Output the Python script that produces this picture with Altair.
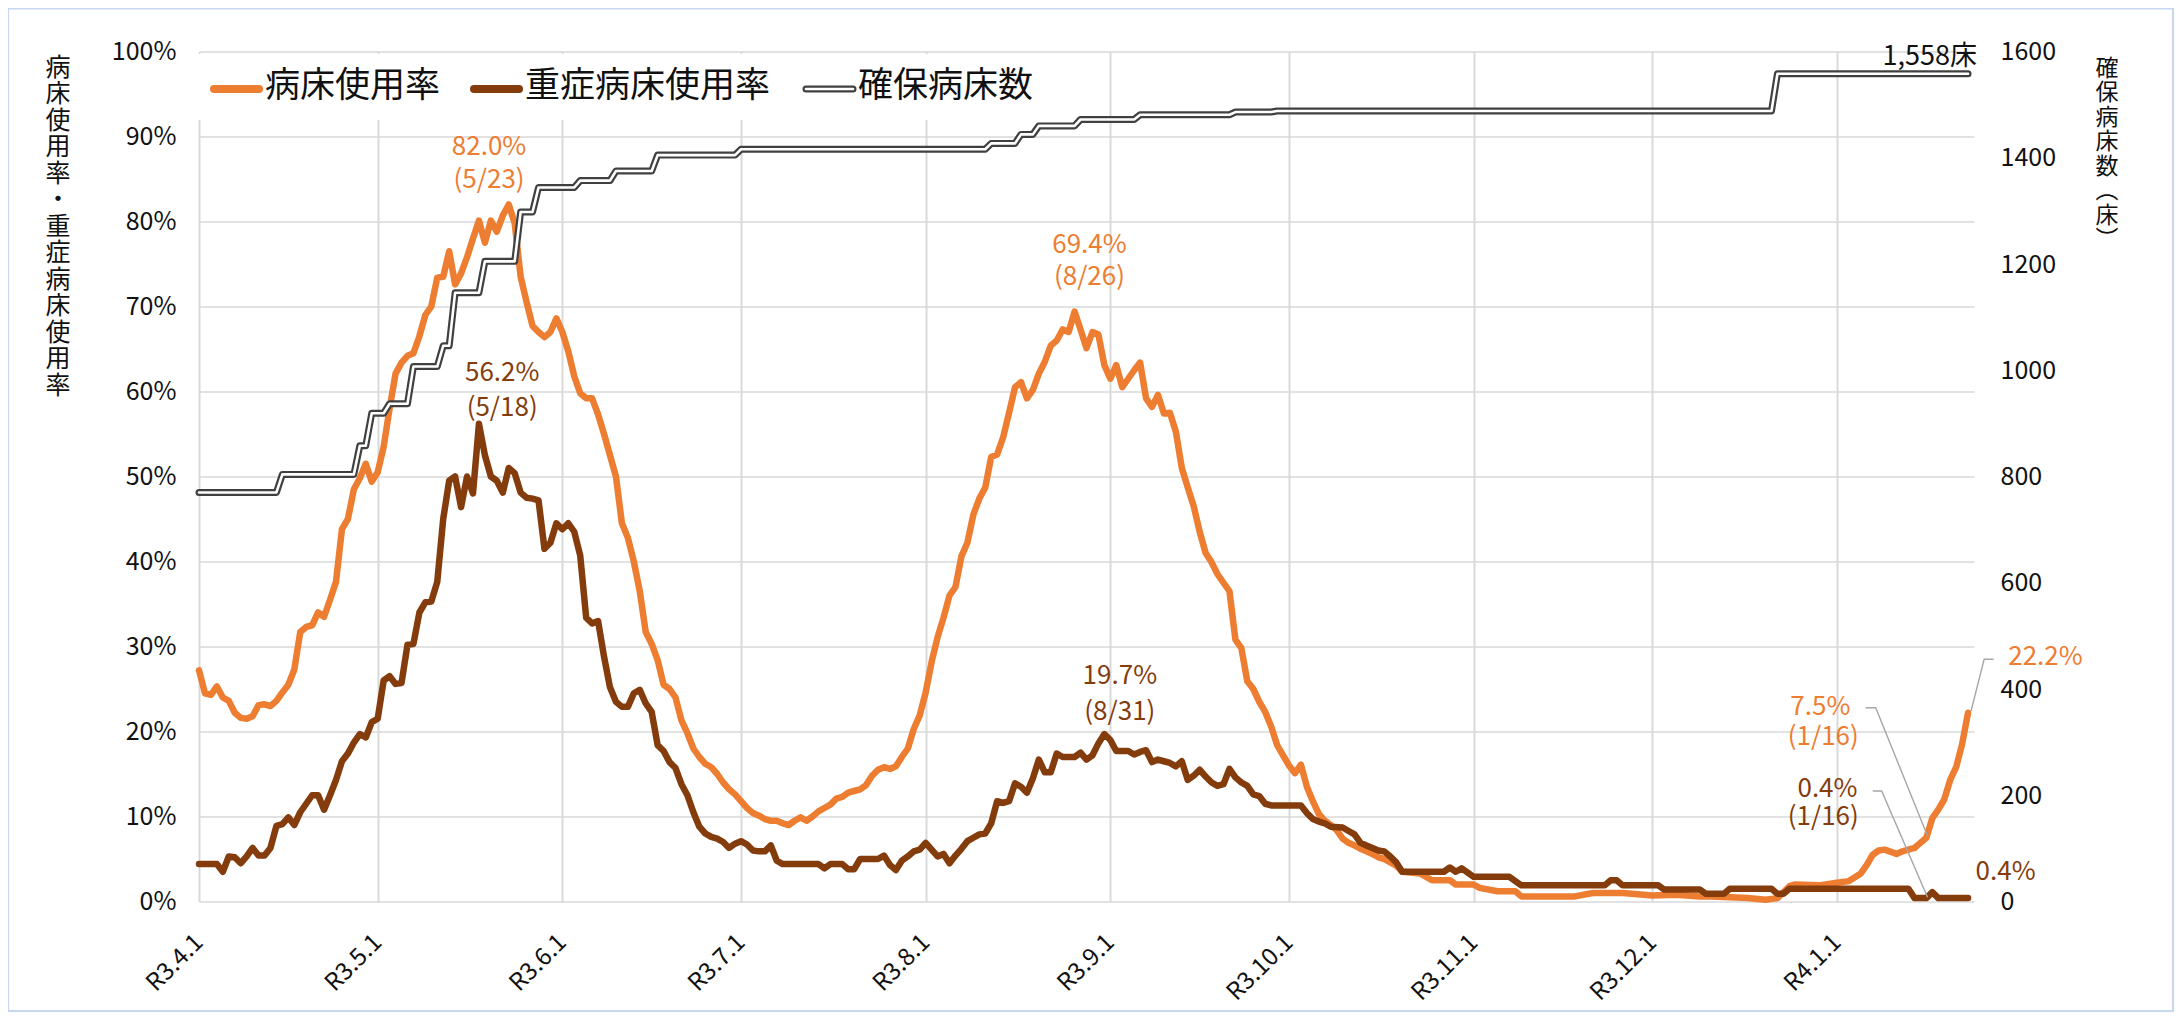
import altair as alt
import pandas as pd

FONT = "Noto Sans CJK JP"
ORANGE = "#ED7D31"
BROWN = "#843C0C"
BEDLINE = "#404040"
GRID = "#D9D9D9"
TXT = "#111111"
LEADER = "#A6A6A6"

START = pd.Timestamp("2021-04-01", tz="UTC")


def ms(d):
    return int((START + pd.Timedelta(days=d)).value // 10**6)


# ---- data (day offset from 2021-04-01, value) ----
occ_day = list(range(0, 203)) + [205, 207, 210, 211, 214, 215, 218, 221, 222, 231, 234, 239, 244, 248,
                                  252, 254, 260, 263, 265, 267, 268, 272, 275, 277, 279, 280, 281, 282,
                                  283, 285, 286, 288, 289, 290, 291, 292, 293, 294, 295, 296, 297]
occ_val = [
    27.2, 24.5, 24.3, 25.3, 24.0, 23.6, 22.2, 21.6, 21.5, 21.8,
    23.1, 23.2, 23.0, 23.6, 24.6, 25.5, 27.3, 31.7, 32.3, 32.5,
    34.0, 33.5, 35.5, 37.6, 43.8, 45.0, 48.5, 49.8, 51.5, 49.4,
    50.5, 53.5, 58.0, 62.1, 63.4, 64.2, 64.5, 66.5, 69.0, 70.0,
    73.4, 73.5, 76.5, 72.6, 73.9, 75.8, 78.0, 80.1, 77.5, 80.1,
    78.8, 80.7, 82.0, 79.8, 73.5, 70.5, 67.7, 67.0, 66.4, 67.0,
    68.6, 67.0, 64.7, 61.8, 59.8, 59.2, 59.2, 57.3, 55.0, 52.5,
    50.0, 44.5, 42.8, 40.0, 36.5, 31.7, 30.3, 28.4, 25.5, 25.0,
    24.0, 21.3, 19.8, 18.0, 17.0, 16.2, 15.8, 15.0, 14.0, 13.2,
    12.6, 11.8, 11.0, 10.4, 10.1, 9.7, 9.5, 9.5, 9.2, 9.0,
    9.5, 9.9, 9.5, 10.0, 10.6, 11.0, 11.4, 12.1, 12.3, 12.8,
    13.0, 13.2, 13.7, 14.8, 15.5, 15.8, 15.6, 15.9, 17.0, 18.0,
    20.3, 21.9, 24.6, 28.2, 31.1, 33.4, 36.0, 37.0, 40.6, 42.2,
    45.5, 47.4, 48.7, 52.3, 52.6, 54.6, 57.5, 60.5, 61.1, 59.2,
    60.2, 62.1, 63.5, 65.4, 66.0, 67.3, 67.0, 69.4, 67.3, 65.1,
    67.0, 66.7, 63.1, 61.5, 63.1, 60.5, 61.5, 62.5, 63.4, 59.2,
    58.2, 59.6, 57.4, 57.5, 55.3, 51.0, 48.7, 46.5, 43.5, 41.0,
    39.9, 38.5, 37.5, 36.5, 30.8, 29.8, 25.9, 25.0, 23.5, 22.3,
    20.6, 18.4, 17.2, 16.0, 15.1, 16.1, 13.5, 11.8, 10.3, 9.5,
    9.0, 8.4, 7.4, 6.9, 6.6, 6.2, 5.9, 5.6, 5.2, 5.0,
    4.6, 4.2, 3.5,
    3.3, 2.5, 2.5, 2.0, 2.0, 1.6, 1.2, 1.2, 0.6, 0.6, 1.0, 1.0, 0.7, 0.8,
    0.6, 0.6, 0.4, 0.2, 0.4, 1.8, 2.0, 1.9, 2.2, 2.4, 3.3, 4.3, 5.5, 6.0,
    6.1, 5.6, 5.9, 6.3, 6.9, 7.5, 9.8, 10.8, 12.0, 14.3, 15.8, 18.5, 22.2,
]

sev_day = [0, 3, 4, 5, 6, 7, 8, 9, 10, 11, 12, 13, 14, 15, 16, 17, 18, 19, 20, 21, 22, 23, 24, 25, 26,
           27, 28, 29, 30, 31, 32, 33, 34, 35, 36, 37, 38, 39, 40, 41, 42, 43, 44, 45, 46, 47, 48, 49,
           50, 51, 52, 53, 54, 55, 56, 57, 58, 59, 60, 61, 62, 63, 64, 65, 66, 67, 68, 69, 70, 71, 72,
           73, 74, 75, 76, 77, 78, 79, 80, 81, 82, 83, 84, 85, 86, 87, 88, 89, 90, 91, 92, 93, 94, 95,
           96, 97, 98, 104, 105, 106, 108, 109, 110, 111, 114, 115, 116, 117, 118, 119, 120, 121, 122,
           123, 124, 125, 126, 127, 128, 129, 130, 131, 132, 133, 134, 135, 136, 137, 138, 139, 140,
           141, 142, 143, 144, 145, 147, 148, 149, 150, 151, 152, 153, 154, 156, 157, 158, 159, 160,
           161, 162, 163, 164, 165, 166, 167, 168, 169, 170, 171, 172, 173, 174, 175, 176, 177, 178,
           179, 180, 185, 186, 187, 188, 189, 190, 192, 193, 194, 195, 196, 197, 198, 199, 200, 201,
           202, 209, 210, 211, 212, 213, 214, 220, 221, 222, 236, 237, 238, 239, 245, 246, 252, 253,
           256, 257, 264, 265, 266, 267, 287, 288, 290, 291, 292, 297]
sev_val = [4.4, 4.4, 3.5, 5.3, 5.2, 4.5, 5.3, 6.3, 5.4, 5.4, 6.3, 8.9, 9.1, 9.9, 9.0, 10.5, 11.5, 12.5,
           12.5, 10.8, 12.5, 14.3, 16.5, 17.4, 18.7, 19.7, 19.3, 21.1, 21.5, 26.0, 26.5, 25.6, 25.7,
           30.2, 30.3, 34.0, 35.2, 35.3, 37.6, 45.0, 49.5, 50.0, 46.4, 50.0, 48.0, 56.2, 52.5, 50.0,
           49.5, 48.1, 51.0, 50.4, 48.1, 47.5, 47.4, 47.2, 41.5, 42.2, 44.5, 43.8, 44.5, 43.5, 40.7,
           33.4, 32.7, 33.0, 28.8, 25.2, 23.5, 22.9, 22.9, 24.5, 24.9, 23.3, 22.3, 18.4, 17.7, 16.4,
           15.7, 13.8, 12.5, 10.5, 8.8, 8.0, 7.6, 7.4, 7.0, 6.3, 6.8, 7.1, 6.7, 6.0, 5.9, 5.9, 6.6,
           4.8, 4.4, 4.4, 3.9, 4.4, 4.4, 3.8, 3.8, 5.0, 5.0, 5.4, 4.3, 3.7, 4.8, 5.3, 5.9, 6.1, 6.9,
           6.1, 5.3, 5.6, 4.5, 5.4, 6.2, 7.1, 7.5, 7.9, 8.0, 9.2, 11.8, 11.6, 11.8, 13.9, 13.5, 12.8,
           14.5, 16.7, 15.2, 15.2, 17.4, 17.0, 17.0, 17.5, 16.7, 17.2, 18.6, 19.7, 19.0, 17.7, 17.7,
           17.3, 17.6, 17.8, 16.4, 16.7, 16.5, 16.3, 15.9, 16.5, 14.3, 14.8, 15.5, 14.7, 14.0, 13.6,
           13.8, 15.6, 14.6, 14.0, 13.6, 12.6, 12.4, 11.5, 11.3, 11.3, 10.4, 9.7, 9.4, 9.2, 8.8, 8.7,
           8.3, 7.9, 6.9, 6.6, 6.3, 6.0, 5.9, 5.3, 4.6, 3.5, 3.5, 4.0, 3.5, 3.9, 3.4, 2.9, 2.9, 2.4,
           1.9, 1.9, 2.5, 2.5, 1.9, 1.9, 1.4, 1.4, 0.9, 0.9, 1.5, 1.5, 0.9, 0.9, 1.5, 1.5, 0.4, 0.4,
           1.1, 0.4, 0.4]

bed_start = [0, 14, 27, 29, 32, 36, 41, 43, 48, 54, 57, 64, 70, 77, 91, 133, 138, 141, 148, 158, 174, 181, 265]
bed_val = [770, 804, 858, 919, 937, 1007, 1046, 1146, 1205, 1298, 1344, 1357, 1375, 1405, 1416, 1427,
           1444, 1460, 1472, 1481, 1486, 1488, 1558]
LAST_DAY = 297

tick_dates = ["2021-04-01", "2021-05-01", "2021-06-01", "2021-07-01", "2021-08-01",
              "2021-09-01", "2021-10-01", "2021-11-01", "2021-12-01", "2022-01-01"]

ann_text = ["82.0%", "(5/23)", "56.2%", "(5/18)", "69.4%", "(8/26)", "19.7%", "(8/31)",
            "7.5%", "(1/16)", "0.4%", "(1/16)", "22.2%", "0.4%"]
ann_day = [48.7, 48.7, 50.9, 50.9, 149.5, 149.5, 154.6, 154.6, 272.2, 272.7, 273.4, 272.7, 310.0, 303.3]
ann_val = [88.8, 84.9, 62.2, 58.1, 77.2, 73.5, 26.5, 22.3, 22.9, 19.4, 13.2, 10.0, 28.8, 3.5]
ann_col = [ORANGE, ORANGE, BROWN, BROWN, ORANGE, ORANGE, BROWN, BROWN, ORANGE, ORANGE, BROWN, BROWN,
           ORANGE, BROWN]

lead_grp = [1, 1, 1, 2, 2, 2, 3, 3, 3]
lead_day = [279.8, 281.5, 290.2, 281.0, 282.5, 290.2, 301.3, 299.7, 297.5]
lead_val = [22.8, 22.8, 7.7, 13.0, 13.0, 0.5, 28.5, 28.5, 22.4]

# ---- frames ----
occ_df = pd.DataFrame({"t": [ms(d) for d in occ_day], "v": occ_val})
sev_df = pd.DataFrame({"t": [ms(d) for d in sev_day], "v": sev_val})
bt, bv = [], []
for i, (s, v) in enumerate(zip(bed_start, bed_val)):
    e = bed_start[i + 1] - 1 if i + 1 < len(bed_start) else LAST_DAY
    bt.append(ms(s)); bv.append(v)
    if e > s:
        bt.append(ms(e)); bv.append(v)
bed_df = pd.DataFrame({"t": bt, "v": bv})
ann_df = pd.DataFrame({"t": [ms(d) for d in ann_day], "v": ann_val, "text": ann_text, "c": ann_col})
lead_df = pd.DataFrame({"t": [ms(d) for d in lead_day], "v": lead_val, "g": lead_grp,
                        "i": list(range(len(lead_grp)))})
one = pd.DataFrame({"k": [0]})

tick_ms = [int(pd.Timestamp(d, tz="UTC").value // 10**6) for d in tick_dates]
XS = alt.Scale(type="utc", domain=[ms(0), ms(298)])
PS = alt.Scale(domain=[0, 100], nice=False, zero=True)
BS = alt.Scale(domain=[0, 1600], nice=False, zero=True)

x_axis = alt.Axis(values=tick_ms,
                  labelExpr="'R' + (utcyear(datum.value) - 2018) + '.' + (utcmonth(datum.value) + 1) + '.1'",
                  labelAngle=-45, labelAlign="right", labelBaseline="middle", labelPadding=37,
                  grid=True, gridColor=GRID, gridWidth=2, domain=False, ticks=False, title=None,
                  labelFontSize=24, labelColor=TXT, labelFont=FONT, labelOverlap=False)
y_axis = alt.Axis(values=list(range(0, 101, 10)), labelExpr="datum.value + '%'", grid=True,
                  gridColor=GRID, gridWidth=1.6, domain=False, ticks=False, title=None,
                  labelFontSize=25, labelPadding=23, labelColor=TXT, labelFont=FONT)
r_axis = alt.Axis(orient="right", values=list(range(0, 1601, 200)), format="d", grid=False,
                  domain=False, ticks=False, title=None, labelFontSize=25, labelPadding=26,
                  labelColor=TXT, labelFont=FONT)


def X():
    return alt.X("t:T", scale=XS, axis=x_axis)


frame = alt.Chart(one).mark_rect(fill=None, stroke="#C5D8EF", strokeWidth=2.2).encode(
    x=alt.value(-191), x2=alt.value(1974), y=alt.value(-43), y2=alt.value(959.5))

occ = alt.Chart(occ_df).mark_line(color=ORANGE, strokeWidth=6.5, strokeJoin="round",
                                  strokeCap="round").encode(
    x=X(), y=alt.Y("v:Q", scale=PS, axis=y_axis))
sev = alt.Chart(sev_df).mark_line(color=BROWN, strokeWidth=6.5, strokeJoin="round",
                                  strokeCap="round").encode(
    x=X(), y=alt.Y("v:Q", scale=PS, axis=None))
bed_o = alt.Chart(bed_df).mark_line(color=BEDLINE, strokeWidth=7, strokeJoin="round",
                                    strokeCap="round").encode(
    x=X(), y=alt.Y("v:Q", scale=BS, axis=r_axis))
bed_i = alt.Chart(bed_df).mark_line(color="white", strokeWidth=2.6, strokeJoin="round",
                                    strokeCap="round").encode(
    x=X(), y=alt.Y("v:Q", scale=BS, axis=None))

lead = alt.Chart(lead_df).mark_line(color=LEADER, strokeWidth=1.4).encode(
    x=X(), y=alt.Y("v:Q", scale=PS, axis=None), detail="g:N", order="i:Q")
ann = alt.Chart(ann_df).mark_text(fontSize=26, font=FONT, align="center", baseline="middle").encode(
    x=X(), y=alt.Y("v:Q", scale=PS, axis=None),
    text="text:N", color=alt.Color("c:N", scale=None))
bed_lab = alt.Chart(pd.DataFrame({"t": [ms(298.5)], "v": [99.4], "text": ["1,558床"]})).mark_text(
    fontSize=27, font=FONT, align="right", baseline="middle", color=TXT).encode(
    x=X(), y=alt.Y("v:Q", scale=PS, axis=None), text="text:N")

# legend
leg_box = alt.Chart(one).mark_rect(fill="white").encode(
    x=alt.value(-2), x2=alt.value(851), y=alt.value(2.5), y2=alt.value(68.5))
leg_layers = [leg_box]
leg_items = [(11, 64, "病床使用率", ORANGE), (271, 324, "重症病床使用率", BROWN), (604, 657, "確保病床数", None)]
for x1, x2, label, col in leg_items:
    if col is None:
        leg_layers.append(alt.Chart(one).mark_rule(color=BEDLINE, strokeWidth=7, strokeCap="round").encode(
            x=alt.value(x1 + 3), x2=alt.value(x2 - 3), y=alt.value(37.5)))
        leg_layers.append(alt.Chart(one).mark_rule(color="white", strokeWidth=2.6, strokeCap="round").encode(
            x=alt.value(x1 + 3), x2=alt.value(x2 - 3), y=alt.value(37.5)))
    else:
        leg_layers.append(alt.Chart(one).mark_rule(color=col, strokeWidth=8, strokeCap="round").encode(
            x=alt.value(x1 + 4), x2=alt.value(x2 - 4), y=alt.value(37.5)))
    leg_layers.append(alt.Chart(one).mark_text(text=label, fontSize=35, font=FONT, align="left",
                                               baseline="middle", color=TXT).encode(
        x=alt.value(x2 + 2), y=alt.value(34.5)))

left_title = list("病床使用率・重症病床使用率")
right_title = list("確保病床数") + ["︵", "床", "︶"]
lt = alt.Chart(one).mark_text(text=left_title, fontSize=25, lineHeight=26.5, font=FONT, align="center",
                              baseline="top", color=TXT).encode(x=alt.value(-141), y=alt.value(4))
rt = alt.Chart(one).mark_text(text=right_title, fontSize=23, lineHeight=24.5, font=FONT, align="center",
                              baseline="top", color=TXT).encode(x=alt.value(1908), y=alt.value(6))

chart = alt.layer(frame, occ, sev, bed_o, bed_i, lead, ann, bed_lab, *leg_layers, lt, rt).resolve_scale(
    y="independent"
).properties(
    width=1775, height=850,
    padding={"left": 191, "top": 43.5, "right": 200, "bottom": 110},
    autosize=alt.AutoSizeParams(type="none"),
).configure_view(stroke=None).configure_text(font=FONT)

chart.save("out.html", embed_options={"renderer": "svg", "actions": False})
